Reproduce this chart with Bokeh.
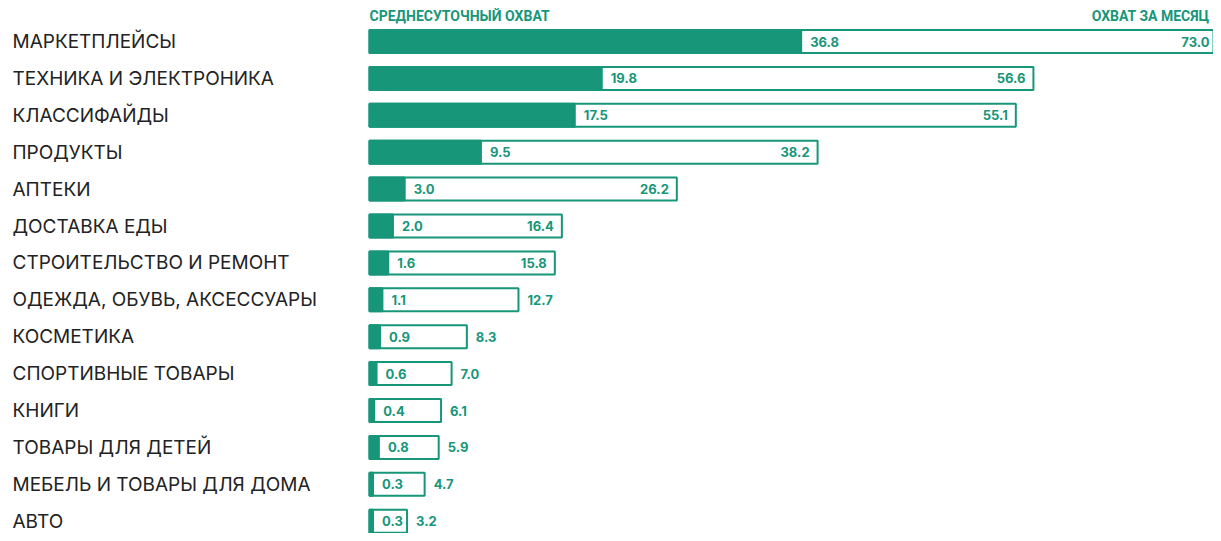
from bokeh.plotting import figure
from bokeh.models import Range1d, ColumnDataSource
from bokeh.core.properties import value
from bokeh.embed import file_html
from bokeh.resources import INLINE

categories = ["МАРКЕТПЛЕЙСЫ", "ТЕХНИКА И ЭЛЕКТРОНИКА", "КЛАССИФАЙДЫ", "ПРОДУКТЫ",
              "АПТЕКИ", "ДОСТАВКА ЕДЫ", "СТРОИТЕЛЬСТВО И РЕМОНТ",
              "ОДЕЖДА, ОБУВЬ, АКСЕССУАРЫ", "КОСМЕТИКА", "СПОРТИВНЫЕ ТОВАРЫ",
              "КНИГИ", "ТОВАРЫ ДЛЯ ДЕТЕЙ", "МЕБЕЛЬ И ТОВАРЫ ДЛЯ ДОМА", "АВТО"]
daily = [36.8, 19.8, 17.5, 9.5, 3.0, 2.0, 1.6, 1.1, 0.9, 0.6, 0.4, 0.8, 0.3, 0.3]
monthly = [73.0, 56.6, 55.1, 38.2, 26.2, 16.4, 15.8, 12.7, 8.3, 7.0, 6.1, 5.9, 4.7, 3.2]
header_daily = "СРЕДНЕСУТОЧНЫЙ ОХВАТ"
header_monthly = "ОХВАТ ЗА МЕСЯЦ"

TEAL = "#17967a"
W, H = 1213, 533
PX_X = 11.73        # px per unit
ROW = 36.9          # px per row
x0 = -369 / PX_X
x1 = x0 + W / PX_X
y_top = -41 / ROW
y_bot = y_top + H / ROW

p = figure(width=W, height=H, output_backend="svg", toolbar_location=None,
           x_range=Range1d(x0, x1), y_range=Range1d(y_bot, y_top),
           min_border=0)
p.axis.visible = False
p.grid.visible = False
p.outline_line_color = None
p.background_fill_color = "white"

rows = list(range(len(categories)))
inside = [m >= 15 for m in monthly]
src = ColumnDataSource(dict(
    y=rows, cat=categories, d=daily, m=monthly,
    dlab=[f"{v:.1f}" for v in daily], mlab=[f"{v:.1f}" for v in monthly],
))

h_out = 23 / ROW
p.hbar(y="y", left=0, right="m", height=h_out, source=src, fill_color="white",
       line_color=TEAL, line_width=2)
p.hbar(y="y", left=0, right="d", height=h_out, source=src, fill_color=TEAL,
       line_color=TEAL, line_width=2)

font_num = value("Inter")
p.text(x="d", y="y", text="dlab", source=src, x_offset=9, text_align="left",
       text_baseline="middle", text_font=font_num, text_font_style="bold",
       text_font_size="13px", text_color=TEAL)

x_edge = x1 + 4 / PX_X
in_src = ColumnDataSource(dict(
    x=[min(m, x_edge) for m, i in zip(monthly, inside) if i],
    y=[r for r, i in zip(rows, inside) if i],
    t=[f"{m:.1f}" for m, i in zip(monthly, inside) if i]))
out_src = ColumnDataSource(dict(
    x=[m for m, i in zip(monthly, inside) if not i],
    y=[r for r, i in zip(rows, inside) if not i],
    t=[f"{m:.1f}" for m, i in zip(monthly, inside) if not i]))
p.text(x="x", y="y", text="t", source=in_src, x_offset=-8, text_align="right",
       text_baseline="middle", text_font=font_num, text_font_style="bold",
       text_font_size="13px", text_color=TEAL)
p.text(x="x", y="y", text="t", source=out_src, x_offset=9, text_align="left",
       text_baseline="middle", text_font=font_num, text_font_style="bold",
       text_font_size="13px", text_color=TEAL)

# category labels
p.text(x=[x0] * len(rows), y=rows, text=categories, x_offset=12,
       text_align="left", text_baseline="middle", text_font=value("Inter"),
       text_font_size="19px", text_color="#222222")

# headers
hy = -25.5 / ROW
p.text(x=[0], y=[hy], text=[header_daily], text_align="left",
       text_baseline="middle", text_font=value("Roboto"), text_font_style="bold",
       text_font_size="14px", text_color=TEAL)
p.text(x=[x1], y=[hy], text=[header_monthly], x_offset=-4,
       text_align="right", text_baseline="middle", text_font=value("Roboto"),
       text_font_style="bold", text_font_size="14px", text_color=TEAL)

open("out.html", "w").write(file_html(p, INLINE))
